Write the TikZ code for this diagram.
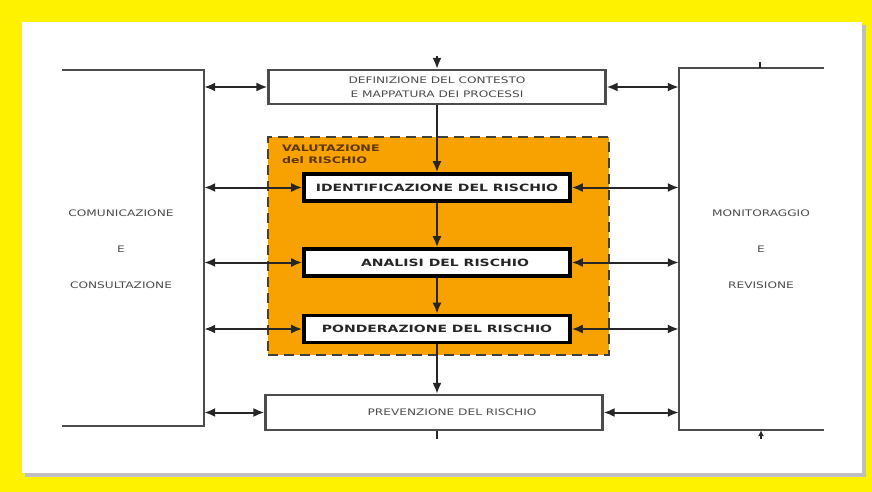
\documentclass[tikz,border=0pt]{standalone}
\usepackage{fontspec}
\setmainfont{DejaVu Sans}
\newfontfamily\lightfont{DejaVu Sans}[FakeStretch=1.35]
\newfontfamily\heavyfont{DejaVu Sans}[FakeStretch=1.4]
\usetikzlibrary{arrows.meta,positioning}
\definecolor{ambra}{RGB}{247,162,0}
\definecolor{bruno}{RGB}{95,55,5}

\begin{document}
\begin{tikzpicture}[x=1pt,y=-1pt,>={Latex[length=11pt,width=9pt]},
  outer/.style={draw=black!70,line width=2.2pt,fill=white,align=center,text=black!70,
    font=\lightfont\fontsize{9}{14}\selectfont},
  side/.style={align=center,text=black!70,font=\lightfont\fontsize{9}{36}\selectfont},
  inner/.style={draw=black,line width=3.6pt,fill=white,minimum width=266,minimum height=27,
    text=black!85,font=\heavyfont\bfseries\fontsize{10}{12}\selectfont},
  valbox/.style={fill=ambra,draw=black!75,line width=2.2pt,dash pattern=on 10pt off 6pt,
    minimum width=341,minimum height=218},
  conn/.style={draw=black!85,line width=2pt}]
\useasboundingbox (0,0) rectangle (872,492);
% cornice
\fill[yellow] (0,0) rectangle (872,492);
\fill[black!25] (25,25) rectangle (866,477);
\fill[white] (22,22) rectangle (862,473);

% blocchi laterali (aperti)
\node[minimum width=142,minimum height=356,inner sep=0] (com) at (133,248) {};
\node[minimum width=145,minimum height=362,inner sep=0] (mon) at (751.5,249) {};
\draw[conn,draw=black!70,line width=2.2pt] (com.north west) -- (com.north east) -- (com.south east) -- (com.south west);
\draw[conn,draw=black!70,line width=2.2pt] (mon.north east) -- (mon.north west) -- (mon.south west) -- (mon.south east);
\node[side] (comtxt) at (121,249) {COMUNICAZIONE\\E\\CONSULTAZIONE};
\node[side] (montxt) at (761,249) {MONITORAGGIO\\E\\REVISIONE};

% valutazione del rischio
\node[valbox] (val) at (438.5,246) {};
\node[anchor=north west,align=left,inner sep=0,text=bruno,
  font=\heavyfont\bfseries\fontsize{9}{11.5}\selectfont] (vallab) at ([shift={(15,9)}]val.north west) {VALUTAZIONE\\del RISCHIO};

% blocchi centrali
\node[outer,minimum width=337,minimum height=34] (ctx) at (437,87) {DEFINIZIONE DEL CONTESTO\\E MAPPATURA DEI PROCESSI};
\node[inner] (idf) at (437,187.5) {IDENTIFICAZIONE DEL RISCHIO};
\node[inner] (ana) at (437,262.5) {\hspace*{16pt}ANALISI DEL RISCHIO};
\node[inner] (pon) at (437,329) {PONDERAZIONE DEL RISCHIO};
\node[outer,minimum width=337,minimum height=35] (prv) at (434,412.5) {\hspace*{36pt}PREVENZIONE DEL RISCHIO};

% frecce
\coordinate (in) at (437,56);
\coordinate (out) at (437,439);
\coordinate (montick) at (760,62);
\coordinate (monfoot) at (761,439);
\draw[conn,->] (in) -- (ctx);
\draw[conn,->] (ctx) -- (idf);
\draw[conn,->] (idf) -- (ana);
\draw[conn,->] (ana) -- (pon);
\draw[conn,->] (pon) -- (pon |- prv.north);
\draw[conn] (pon |- prv.south) -- (out);
\draw[conn] (montick) -- (montick |- mon.north);
\draw[conn,{Latex[length=6pt,width=6pt]}-] (mon.south -| monfoot) -- (monfoot);
\foreach \b in {ctx,idf,ana,pon,prv}
{
\draw[conn,<->] (com.east |- \b.west) -- (\b.west);
\draw[conn,<->] (\b.east) -- (mon.west |- \b.east);
}
\end{tikzpicture}
\end{document}
